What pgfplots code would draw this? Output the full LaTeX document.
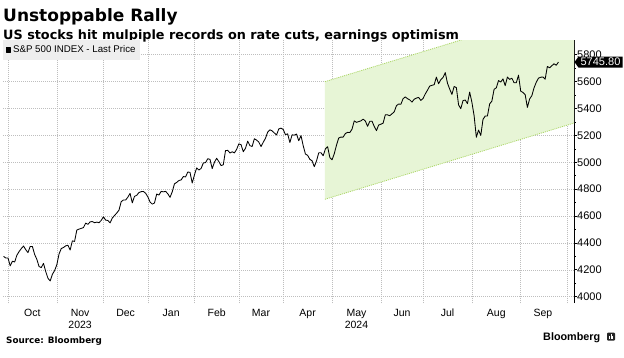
\documentclass[border=0pt]{standalone}
\usepackage{fontspec}
\setmainfont{Liberation Sans}
\newfontfamily\djv{DejaVu Sans}
\usepackage{pgfplots}
\usepackage{pgfplotstable}
\pgfplotsset{compat=1.18}
\definecolor{chanfill}{RGB}{231,245,214}
\definecolor{chanline}{RGB}{170,214,100}
\definecolor{gridc}{RGB}{190,190,190}
\definecolor{legbg}{RGB}{238,238,238}

\pgfplotstableread{
idx val
-2 4299.70
-1 4288.05
0 4288.39
1 4229.45
2 4263.75
3 4258.19
4 4308.50
5 4335.66
6 4358.24
7 4376.95
8 4349.61
9 4327.78
10 4373.63
11 4373.20
12 4314.60
13 4278.00
14 4224.16
15 4217.04
16 4247.68
17 4186.77
18 4137.23
19 4117.37
20 4166.82
21 4193.80
22 4237.86
23 4317.78
24 4358.34
25 4365.98
26 4378.38
27 4382.78
28 4347.35
29 4415.24
30 4411.55
31 4495.70
32 4502.88
33 4508.24
34 4514.02
35 4547.38
36 4538.19
37 4556.62
38 4559.34
39 4550.43
40 4554.89
41 4550.58
42 4567.80
43 4594.63
44 4569.78
45 4567.18
46 4549.34
47 4585.59
48 4604.37
49 4622.44
50 4643.70
51 4707.09
52 4719.55
53 4719.19
54 4740.56
55 4768.37
56 4698.35
57 4746.75
58 4754.63
59 4774.75
60 4781.58
61 4783.35
62 4769.83
63 4742.83
64 4704.81
65 4688.68
66 4697.24
67 4763.54
68 4756.50
69 4783.45
70 4780.24
71 4783.83
72 4765.98
73 4739.21
74 4780.94
75 4839.81
76 4850.43
77 4864.60
78 4868.55
79 4894.16
80 4890.97
81 4927.93
82 4924.97
83 4845.65
84 4906.19
85 4958.61
86 4942.81
87 4954.23
88 4995.06
89 4997.91
90 5026.61
91 5021.84
92 4953.17
93 5000.62
94 5029.73
95 5005.57
96 4975.51
97 4981.80
98 5087.03
99 5088.80
100 5069.53
101 5078.18
102 5069.76
103 5096.27
104 5137.08
105 5130.95
106 5078.65
107 5104.76
108 5157.36
109 5123.69
110 5117.94
111 5175.27
112 5165.31
113 5150.48
114 5117.09
115 5149.42
116 5178.51
117 5224.62
118 5241.53
119 5234.18
120 5218.19
121 5203.58
122 5248.49
123 5254.35
124 5243.77
125 5205.81
126 5211.49
127 5147.21
128 5204.34
129 5202.39
130 5209.91
131 5160.64
132 5199.06
133 5123.41
134 5061.82
135 5051.41
136 5022.21
137 5011.12
138 4967.23
139 5010.60
140 5070.55
141 5071.63
142 5048.42
143 5099.96
144 5116.17
145 5035.69
146 5018.39
147 5064.20
148 5127.79
149 5180.74
150 5187.70
151 5187.67
152 5214.08
153 5222.68
154 5221.42
155 5246.68
156 5308.15
157 5297.10
158 5303.27
159 5308.13
160 5321.41
161 5307.01
162 5267.84
163 5304.72
164 5306.04
165 5266.95
166 5235.48
167 5277.51
168 5283.40
169 5291.34
170 5354.03
171 5352.96
172 5346.99
173 5360.79
174 5375.32
175 5421.03
176 5433.74
177 5431.60
178 5473.23
179 5487.03
180 5473.17
181 5464.62
182 5447.87
183 5469.30
184 5477.90
185 5482.87
186 5460.48
187 5475.09
188 5509.01
189 5537.02
190 5567.19
191 5572.85
192 5576.98
193 5633.91
194 5584.54
195 5615.35
196 5631.22
197 5667.20
198 5588.27
199 5544.59
200 5505.00
201 5564.41
202 5555.74
203 5427.13
204 5399.22
205 5459.10
206 5463.54
207 5436.44
208 5522.30
209 5446.68
210 5346.56
211 5186.33
212 5240.03
213 5199.50
214 5319.31
215 5344.16
216 5344.39
217 5434.43
218 5455.21
219 5543.22
220 5554.25
221 5608.25
222 5597.12
223 5620.85
224 5570.64
225 5634.61
226 5616.84
227 5625.80
228 5592.18
229 5591.96
230 5648.40
231 5528.93
232 5520.07
233 5503.41
234 5408.42
235 5471.05
236 5495.52
237 5554.13
238 5595.76
239 5626.02
240 5633.09
241 5634.58
242 5618.26
243 5713.64
244 5702.55
245 5718.57
246 5732.93
247 5722.26
248 5745.80
}\spx

\pgfplotstableread{
idx lo hi
142.8 4725 5600
255 5292 6167
}\chan

\begin{document}
\begin{tikzpicture}
\path[use as bounding box, fill=white] (0,0) rectangle (624pt,-357pt);
\node[anchor=base west, inner sep=0pt, font=\djv\bfseries\fontsize{17}{20}\selectfont] at (3pt,-21pt) {Unstoppable Rally};
\node[anchor=base west, inner sep=0pt, font=\djv\bfseries\fontsize{12.8}{15}\selectfont] at (3pt,-39pt) {US stocks hit mulpiple records on rate cuts, earnings optimism};
\begin{axis}[
  at={(3pt,-303pt)}, anchor=south west,
  scale only axis, width=571pt, height=263pt,
  xmin=-2.25, xmax=255, ymin=3953, ymax=5910,
  axis x line*=bottom, axis y line*=right,
  x axis line style={draw=none},
  y axis line style={black, line width=0.9pt},
  xtick={11,32.5,53,73.5,94,114,135,157,177.5,198,220,241},
  xticklabels={Oct,Nov\\2023,Dec,Jan,Feb,Mar,Apr,May\\2024,Jun,Jul,Aug,Sep},
  xtick style={draw=none},
  xticklabel style={align=center, font=\fontsize{10.5}{12}\selectfont, anchor=north, inner sep=0pt, yshift=-3pt},
  extra x ticks={0,22,43,63,84,104,124,146,168,187,209,231,252},
  extra x tick labels={},
  extra x tick style={grid=major, major tick length=0pt},
  ytick={4000,4200,4400,4600,4800,5000,5200,5400,5600,5800},
  minor y tick num=1,
  ymajorgrids=true,
  major grid style={gridc, dash pattern=on 1pt off 1pt, line width=0.6pt},
  tick align=outside,
  ytick style={black, line width=0.7pt},
  major tick length=3pt, minor tick length=1.8pt,
  yticklabel style={font=\fontsize{11}{13}\selectfont, anchor=west, inner sep=0pt},
  /pgf/number format/.cd, 1000 sep={}, assume math mode=true,
  /pgfplots/.cd,
  legend style={at={(0,1)}, anchor=north west, draw=none, fill=legbg,
    font=\fontsize{9.7}{11}\selectfont, inner xsep=2.5pt, inner ysep=3.5pt},
  legend image code/.code={\fill[black] (0pt,-2.4pt) rectangle (4.6pt,2.4pt);},
  legend cell align=left,
]
\addplot[draw=none, fill=chanfill, forget plot] coordinates {(142.8,4725) (255,5292) (255,6167) (142.8,5600)} --cycle;
\addplot[chanline, dash pattern=on 1pt off 1pt, line width=0.8pt, forget plot] table[x=idx, y=lo] {\chan};
\addplot[chanline, dash pattern=on 1pt off 1pt, line width=0.8pt, forget plot] table[x=idx, y=hi] {\chan};
\addplot[black, line width=0.85pt, line join=round] table[x=idx, y=val] {\spx};
\addlegendentry{S\&P 500 INDEX - Last Price}
\coordinate (tag) at (axis cs:255,5745.8);
\end{axis}
\fill[black] ([xshift=0.5pt]tag) -- ++(4pt,5.5pt) -- ++(44pt,0) -- ++(0,-11pt) -- ++(-44pt,0) -- cycle;
\node[white, font=\fontsize{11}{13}\selectfont, inner sep=0pt] at ([xshift=26.5pt]tag) {5745.80};
\node[anchor=base west, inner sep=0pt, font=\djv\bfseries\fontsize{8.8}{10}\selectfont] at (6pt,-343pt) {Source: Bloomberg};
\node[anchor=base west, inner sep=0pt, font=\bfseries\fontsize{10.8}{13}\selectfont] at (543pt,-340.5pt) {Bloomberg};
\fill[black!85, rounded corners=1pt] (607pt,-340.5pt) rectangle (615pt,-332.5pt);
\fill[white] (608.6pt,-338.8pt) rectangle (609.6pt,-335.5pt);
\fill[white] (610.5pt,-338.8pt) rectangle (611.5pt,-334.2pt);
\fill[white] (612.4pt,-338.8pt) rectangle (613.4pt,-336.2pt);
\end{tikzpicture}
\end{document}
